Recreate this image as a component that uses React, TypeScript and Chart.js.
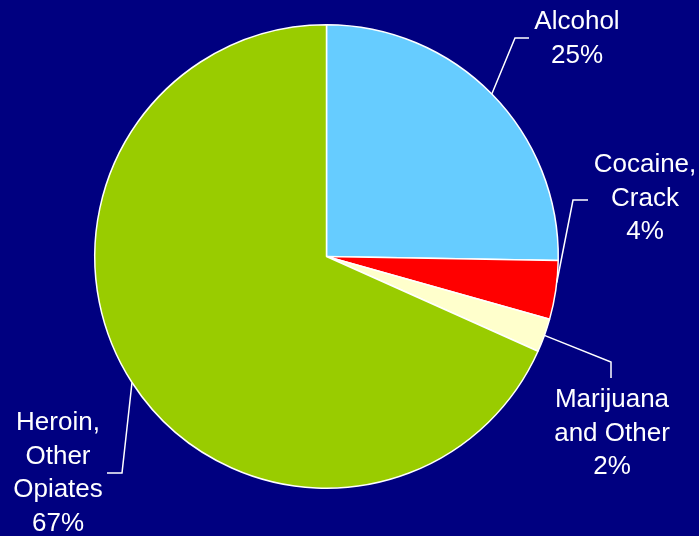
import React, { useEffect, useRef } from "react";
import { Chart, registerables } from "chart.js";

Chart.register(...registerables);

const categories = ["Alcohol", "Cocaine, Crack", "Marijuana and Other", "Heroin, Other Opiates"];
const values = [24.8, 4.0, 2.3, 67.0];
const labelLines = [
  ["Alcohol", "25%"],
  ["Cocaine,", "Crack", "4%"],
  ["Marijuana", "and Other", "2%"],
  ["Heroin,", "Other", "Opiates", "67%"],
];
const colors = ["#66CCFF", "#FF0000", "#FFFFCC", "#99CC00"];

// label layout: anchor fraction along slice, elbow, end, text center x, first line y
const layout = [
  { frac: 0.5, elbow: [515, 38], end: [529, 38], tx: 577, ty: 22 },
  { frac: 0.37, elbow: [573, 200], end: [588, 200], tx: 645, ty: 165 },
  { frac: 0.5, elbow: [611, 362], end: [611, 378], tx: 612, ty: 400 },
  { frac: 0.5, elbow: [122, 473], end: [107, 473], tx: 58, ty: 423 },
];

const labelPlugin = {
  id: "leaderLabels",
  afterDatasetsDraw(chart: any) {
    const ctx = chart.ctx;
    const meta = chart.getDatasetMeta(0);
    ctx.save();
    ctx.strokeStyle = "#FFFFFF";
    ctx.lineWidth = 1.5;
    ctx.fillStyle = "#FFFFFF";
    ctx.font = "26px 'Liberation Sans', Arial, sans-serif";
    ctx.textAlign = "center";
    ctx.textBaseline = "middle";
    meta.data.forEach((arc: any, i: number) => {
      const p = arc.getProps(["x", "y", "startAngle", "endAngle", "outerRadius"], true);
      const L = layout[i];
      const a = p.startAngle + (p.endAngle - p.startAngle) * L.frac;
      const sx = p.x + Math.cos(a) * p.outerRadius;
      const sy = p.y + Math.sin(a) * p.outerRadius;
      ctx.beginPath();
      ctx.moveTo(sx, sy);
      ctx.lineTo(L.elbow[0], L.elbow[1]);
      ctx.lineTo(L.end[0], L.end[1]);
      ctx.stroke();
      labelLines[i].forEach((t, j) => {
        ctx.fillText(t, L.tx, L.ty + j * 33.5);
      });
    });
    ctx.restore();
  },
};

export default function App() {
  const ref = useRef<HTMLCanvasElement>(null);
  useEffect(() => {
    if (!ref.current) return;
    const chart = new Chart(ref.current, {
      type: "pie",
      data: {
        labels: categories,
        datasets: [
          {
            data: values,
            backgroundColor: colors,
            borderColor: "#FFFFFF",
            borderWidth: 1.5,
          },
        ],
      },
      options: {
        responsive: false,
        animation: false,
        layout: { padding: { top: 24, bottom: 47, left: 94, right: 140 } },
        plugins: {
          legend: { display: false },
          tooltip: { enabled: false },
        },
      },
      plugins: [labelPlugin],
    });
    return () => chart.destroy();
  }, []);
  return (
    <div style={{ position: "fixed", left: 0, top: 0, width: 699, height: 536, background: "#000080" }}>
      <canvas ref={ref} width={699} height={536} style={{ display: "block" }} />
    </div>
  );
}
